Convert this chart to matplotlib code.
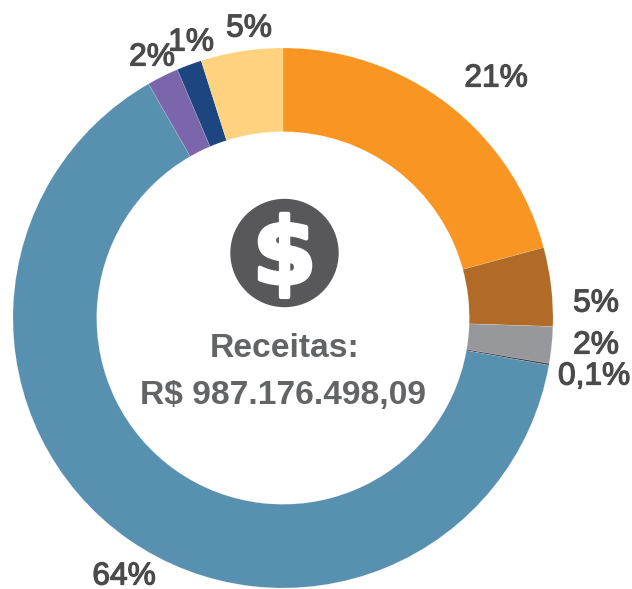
import matplotlib
matplotlib.use("Agg")
import matplotlib.pyplot as plt
import matplotlib.patheffects as pe
from matplotlib.patches import Circle

plt.rcParams["font.family"] = ["Liberation Sans", "DejaVu Sans"]

W, H = 632, 589
CX, CY, R = 283, H - 318, 270
TEXT_COLOR = "#4a4a4a"

# clockwise from 12 o'clock
categories = ["laranja", "marrom", "cinza", "preto", "azul", "roxo", "marinho", "creme"]
shares = [20.8, 4.7, 2.2, 0.1, 63.9, 1.9, 1.5, 4.9]
colors = ["#f99522", "#b16b27", "#97989c", "#3a3a3c", "#5890af", "#7b66ab", "#1d4580", "#fed27e"]

value_labels = ["21%", "5%", "2%", "0,1%", "64%", "2%", "1%", "5%"]
label_x = [496, 596, 596, 594, 124, 152, 191, 249]
label_y = [75, 300, 342, 373, 573, 54, 39, 25]

fig = plt.figure(figsize=(W / 100, H / 100), dpi=100)
ax = fig.add_axes([0, 0, 1, 1])

ax.pie(
    shares,
    colors=colors,
    startangle=90,
    counterclock=False,
    center=(CX, CY),
    radius=R,
    wedgeprops=dict(width=R * 0.31, linewidth=0.4, edgecolor="#ffffff40"),
)

ax.set_xlim(0, W)
ax.set_ylim(0, H)
ax.set_aspect("equal")
ax.axis("off")

for txt, x, y in zip(value_labels, label_x, label_y):
    ax.text(x, H - y, txt, fontsize=22.8, color=TEXT_COLOR, ha="center", va="center_baseline",
            path_effects=[pe.withStroke(linewidth=0.9, foreground=TEXT_COLOR)])

# icone do cifrao
ax.add_patch(Circle((284.5, H - 253), 53.5, color="#58585a", zorder=3))
ax.text(284.5, H - 248, "$", fontsize=66, fontweight="bold", family="DejaVu Sans", color="white",
        ha="center", va="center_baseline", zorder=4,
        path_effects=[pe.withStroke(linewidth=3, foreground="white")])

ax.text(284.5, H - 345, "Receitas:", fontsize=24.2, fontweight="bold", color="#636466",
        ha="center", va="center_baseline")
ax.text(283.5, H - 392, "R$ 987.176.498,09", fontsize=24.2, fontweight="bold", color="#636466",
        ha="center", va="center_baseline")

fig.savefig("out.png", dpi=100, facecolor="white")
